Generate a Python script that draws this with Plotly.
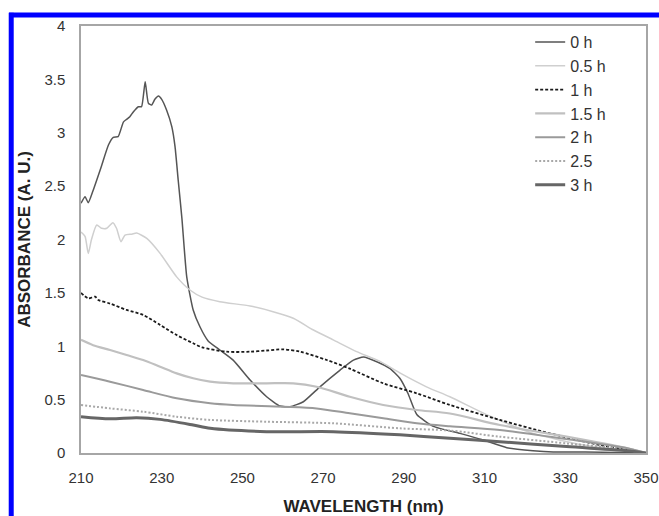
import plotly.graph_objects as go

# ---- data ----
wl_0h = [210, 211, 211.8, 213, 215, 216.8, 218, 219.2, 220.5, 221.3, 222.1, 223, 224.2, 225, 225.9,
         226.7, 227.5, 228.3, 229.2, 230, 231.2, 232.5, 233.3, 234.1, 235, 236.2, 237.8, 239.5,
         241.5, 244.4, 247.7, 251.9, 256, 259.3, 261.8, 265.1, 269.2, 274.2, 277.5, 280, 283.3,
         286.6, 289, 291, 293.2, 297.3, 303.9, 309.7, 315.5, 322, 327, 335, 350]
abs_0h = [2.34, 2.40, 2.345, 2.46, 2.68, 2.885, 2.957, 2.963, 3.10, 3.126, 3.15, 3.197, 3.244, 3.244,
          3.478, 3.276, 3.26, 3.313, 3.344, 3.313, 3.213, 3.057, 2.87, 2.55, 2.2, 1.65, 1.34, 1.18,
          1.05, 0.965, 0.87, 0.684, 0.527, 0.44, 0.434, 0.48, 0.62, 0.777, 0.87, 0.90, 0.855,
          0.79, 0.70, 0.56, 0.36, 0.25, 0.184, 0.122, 0.05, 0.022, 0.01, 0.01, 0.0]

wl_05h = [210, 211, 211.8, 212.6, 213.9, 215.1, 216.4, 217.9, 218.8, 219.9, 220.9, 222.6, 223.8,
          226.3, 229.6, 233.7, 237, 240, 244.4, 251.9, 257.6, 262.6, 267.6, 272.5, 278.3, 284,
          289, 295.6, 301.4, 310.5, 322, 334.5, 346, 350]
abs_05h = [2.07, 2.03, 1.87, 2.0, 2.136, 2.105, 2.105, 2.157, 2.105, 1.98, 2.04, 2.05, 2.06,
           2.01, 1.87, 1.65, 1.527, 1.46, 1.417, 1.377, 1.324, 1.262, 1.152, 1.06, 0.95, 0.86,
           0.75, 0.62, 0.527, 0.36, 0.184, 0.075, 0.02, 0.0]

wl_1h = [210, 211.8, 213.5, 214.3, 217.2, 221.3, 225.4, 229.6, 233.7, 237.8, 240, 246.1, 251.9,
         256, 260.1, 264.3, 270.9, 276.6, 284.9, 293.2, 301.4, 313.8, 326.2, 338.6, 350]
abs_1h = [1.50, 1.449, 1.464, 1.433, 1.40, 1.34, 1.293, 1.20, 1.105, 1.028, 0.99, 0.949, 0.949,
          0.96, 0.971, 0.949, 0.871, 0.79, 0.653, 0.559, 0.45, 0.31, 0.184, 0.075, 0.0]

wl_15h = [210, 213, 217.2, 221.3, 225.4, 229.6, 233.7, 237.8, 242, 247.7, 256, 262.6, 268.4,
          276.6, 284.9, 293.2, 301.4, 313.8, 330.3, 345.9, 350]
abs_15h = [1.06, 1.01, 0.965, 0.918, 0.871, 0.808, 0.746, 0.70, 0.668, 0.653, 0.653, 0.653, 0.621,
           0.527, 0.45, 0.403, 0.37, 0.262, 0.153, 0.04, 0.0]

wl_2h = [210, 217.2, 225.4, 233.7, 242, 247.7, 260.1, 268.4, 276.6, 284.9, 293.2, 301.4, 313.8,
         330.3, 345.9, 350]
abs_2h = [0.73, 0.668, 0.59, 0.512, 0.466, 0.45, 0.434, 0.418, 0.372, 0.325, 0.278, 0.25, 0.215,
          0.13, 0.04, 0.0]

wl_25h = [210, 217.2, 225.4, 233.7, 242, 256, 272.5, 289, 301.4, 313.8, 330.3, 345.9, 350]
abs_25h = [0.45, 0.418, 0.387, 0.34, 0.31, 0.293, 0.278, 0.231, 0.21, 0.153, 0.09, 0.03, 0.0]

wl_3h = [210, 217.2, 223.8, 229.6, 237.8, 242, 256, 272.5, 289, 301.4, 313.8, 330.3, 345.9, 350]
abs_3h = [0.34, 0.32, 0.33, 0.315, 0.262, 0.231, 0.2, 0.2, 0.17, 0.138, 0.106, 0.06, 0.02, 0.0]

x_ticks = [210, 230, 250, 270, 290, 310, 330, 350]
y_ticks = [0, 0.5, 1, 1.5, 2, 2.5, 3, 3.5, 4]

series = [
    ("0 h", wl_0h, abs_0h, dict(color="#555555", width=1.5), 0.5),
    ("0.5 h", wl_05h, abs_05h, dict(color="#cfcfcf", width=1.5), 0.6),
    ("1 h", wl_1h, abs_1h, dict(color="#1a1a1a", width=1.8, dash="3px,2px"), 0.8),
    ("1.5 h", wl_15h, abs_15h, dict(color="#c0c0c0", width=2.2), 0.8),
    ("2 h", wl_2h, abs_2h, dict(color="#9a9a9a", width=2), 0.8),
    ("2.5", wl_25h, abs_25h, dict(color="#a8a8a8", width=2, dash="2px,2px"), 0.8),
    ("3 h", wl_3h, abs_3h, dict(color="#666666", width=3), 0.8),
]

FONT = "Liberation Sans, Arial, sans-serif"

fig = go.Figure()
for name, x, y, line, sm in series:
    fig.add_trace(go.Scatter(x=x, y=y, name=name, mode="lines",
                             line=dict(shape="spline", smoothing=sm, **line)))

BLUE = dict(color="#0000ff", width=5)
fig.update_layout(
    width=659, height=516,
    margin=dict(l=81, r=13, t=26, b=63, autoexpand=False),
    paper_bgcolor="white", plot_bgcolor="white",
    font=dict(family=FONT, size=15, color="#333333"),
    showlegend=True,
    legend=dict(x=0.795, y=1.002, xanchor="left", yanchor="top",
                bgcolor="rgba(0,0,0,0)", font=dict(size=16, color="#333333")),
    xaxis=dict(range=[210, 350], tickvals=x_ticks, showgrid=False, zeroline=False,
               showline=True, mirror=True, linecolor="#a6a6a6", linewidth=1.5,
               ticks="", ticklabelstandoff=10, automargin=False,
               title=dict(text="<b>WAVELENGTH (nm)</b>", font=dict(size=17, color="#222222"),
                          standoff=15)),
    yaxis=dict(range=[0, 4], tickvals=y_ticks, showgrid=False, zeroline=False,
               showline=True, mirror=True, linecolor="#a6a6a6", linewidth=1.5,
               ticks="", ticklabelstandoff=11, automargin=False,
               title=dict(text="<b>ABSORBANCE (A. U.)</b>", font=dict(size=17, color="#222222"),
                          standoff=9)),
    shapes=[
        dict(type="line", xref="paper", yref="paper", x0=-0.1235, x1=-0.1235,
             y0=1.031, y1=-0.1475, line=BLUE, layer="above"),
        dict(type="line", xref="paper", yref="paper", x0=-0.1274, x1=1.023,
             y0=1.0258, y1=1.0258, line=BLUE, layer="above"),
    ],
)

fig.write_html("out.html")
